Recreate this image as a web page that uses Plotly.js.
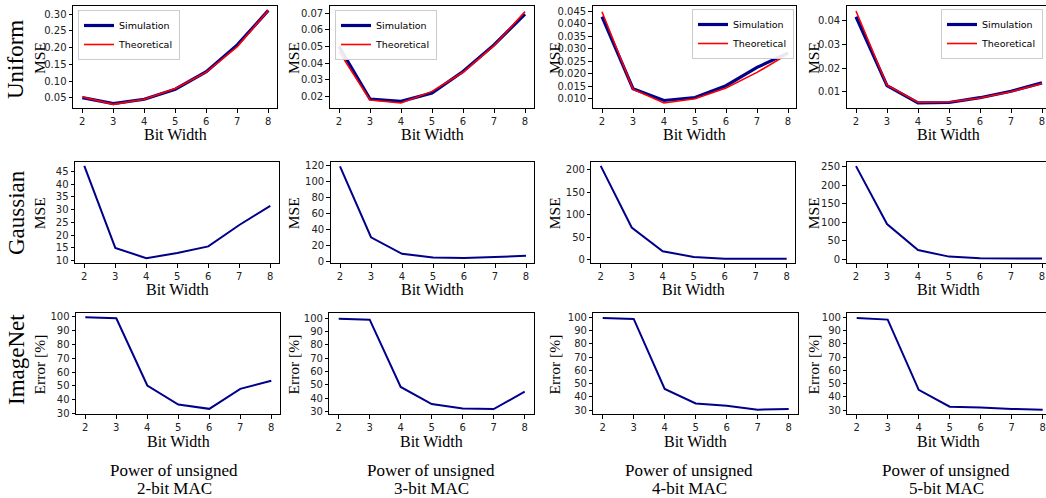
<!DOCTYPE html>
<html>
<head>
<meta charset="utf-8">
<script src="https://cdn.plot.ly/plotly-3.0.1.min.js"></script>
<style>html,body{margin:0;padding:0;background:#fff;}#chart{width:1046px;height:498px;}</style>
</head>
<body>
<div id="chart"></div>
<script>
// ---- data ----
const bits = [2, 3, 4, 5, 6, 7, 8];
const uniSim2 = [0.051, 0.033, 0.046, 0.076, 0.128, 0.208, 0.311];
const uniTh2  = [0.053, 0.031, 0.046, 0.078, 0.127, 0.203, 0.311];
const uniSim3 = [0.050, 0.0184, 0.017, 0.022, 0.035, 0.051, 0.0695];
const uniTh3  = [0.047, 0.0178, 0.016, 0.023, 0.0345, 0.0505, 0.071];
const uniSim4 = [0.0428, 0.0140, 0.0093, 0.0105, 0.0152, 0.0225, 0.0282];
const uniTh4  = [0.0447, 0.0138, 0.0083, 0.0100, 0.0143, 0.0205, 0.0278];
const uniSim5 = [0.0414, 0.0126, 0.0054, 0.0056, 0.0076, 0.0103, 0.0138];
const uniTh5  = [0.0438, 0.0128, 0.0057, 0.0058, 0.0075, 0.0101, 0.0135];
const gau2 = [47.2, 15, 11, 13, 15.6, 24, 31.5];
const gau3 = [118.8, 30.2, 9.5, 5, 4.1, 5.4, 7];
const gau4 = [209, 71.6, 18.7, 6, 2.2, 2, 2];
const gau5 = [251, 95, 25, 7.2, 2.7, 1.8, 1.8];
const img2 = [99.2, 98.5, 50.3, 36.7, 33.6, 47.9, 53.8];
const img3 = [99.5, 98.8, 48.5, 35.7, 32.5, 32, 45];
const img4 = [99.5, 98.8, 45.9, 35, 33.3, 30.3, 30.8];
const img5 = [99.5, 98.3, 45.3, 32.5, 32, 30.8, 30.3];
const rowLabels = ["Uniform", "Gaussian", "ImageNet"];
const rowYTitles = ["MSE", "MSE", "Error [%]"];
const colLabelTop = "Power of unsigned";
const colLabelBottom = ["2-bit MAC", "3-bit MAC", "4-bit MAC", "5-bit MAC"];
const xTitle = "Bit Width";
const simName = "Simulation", thName = "Theoretical";

// ---- layout geometry (pixels) ----
const W = 1046, H = 498;
const NAVY = "#00008b", RED = "#ff0000";
const SERIF = "Liberation Serif, Times New Roman, serif";
const SANS = "DejaVu Sans, sans-serif";
const boxes = [ // [left, right, top, bottom]
  [[73,277.3,6,108],[329.7,534.3,6,108],[592.7,796.3,6,108],[846.7,1046,6,108]],
  [[75,279.3,161.5,263],[330.7,534.3,161.5,263],[591.4,795.3,161.5,263],[846.7,1046,161.5,263]],
  [[76,280,313,414],[329.4,533.6,313,414],[593.4,797.6,313,414],[847.4,1046,313,414]]
];
const yRanges = [
  [[0.020,0.324],[0.013,0.0744],[0.0063,0.047],[0.0033,0.0459]],
  [[9.1,48.9],[-2,125],[-7.5,218.7],[-10,263.5]],
  [[29.9,102.3],[28.3,103.8],[27,103.3],[27,103.3]]
];
const yTicks = [
  [[0.05,".2f"],[0.01,".2f"],[0.005,".3f"],[0.01,".2f"]],
  [[5,"d"],[20,"d"],[50,"d"],[50,"d"]],
  [[10,"d"],[10,"d"],[10,"d"],[10,"d"]]
];
const uniSim = [uniSim2, uniSim3, uniSim4, uniSim5];
const uniTh = [uniTh2, uniTh3, uniTh4, uniTh5];
const gau = [gau2, gau3, gau4, gau5];
const img = [img2, img3, img4, img5];

const layout = {
  width: W, height: H,
  margin: {l:0, r:0, t:0, b:0, pad:0},
  paper_bgcolor: "#fff", plot_bgcolor: "#fff",
  font: {family: SANS, size: 9.5, color: "#000"},
  annotations: [], showlegend: true
};
const data = [];
const legendPos = [
  {x: 78, y: 10, xanchor: "left"},
  {x: 335, y: 10, xanchor: "left"},
  {x: 794, y: 9, xanchor: "right"},
  {x: 1043, y: 9, xanchor: "right"}
];

for (let r = 0; r < 3; r++) {
  for (let c = 0; c < 4; c++) {
    const idx = r * 4 + c + 1;
    const sx = idx === 1 ? "" : String(idx);
    const [L, R, T, B] = boxes[r][c];
    const pxPerUnit = 31;
    const xr = [1.7, 1.7 + (R - L) / pxPerUnit];
    layout["xaxis" + sx] = {
      domain: [L / W, R / W], anchor: "y" + sx, range: xr,
      tickmode: "array", tickvals: bits, ticktext: bits.map(String),
      showline: true, mirror: true, linecolor: "#000", linewidth: 1,
      ticks: "outside", ticklen: 3.5, tickwidth: 1, tickcolor: "#000",
      showgrid: false, zeroline: false, tickfont: {family: SANS, size: 10, color: "#222"}
    };
    layout["yaxis" + sx] = {
      domain: [1 - B / H, 1 - T / H], anchor: "x" + sx, range: yRanges[r][c],
      tick0: 0, dtick: yTicks[r][c][0], tickformat: yTicks[r][c][1],
      showline: true, mirror: true, linecolor: "#000", linewidth: 1,
      ticks: "outside", ticklen: 3.5, tickwidth: 1, tickcolor: "#000",
      showgrid: false, zeroline: false, tickfont: {family: SANS, size: 10, color: "#222"}
    };
    const xa = "x" + sx, ya = "y" + sx;
    if (r === 0) {
      const lg = c === 0 ? "legend" : "legend" + (c + 1);
      data.push({x: bits, y: uniSim[c], xaxis: xa, yaxis: ya, type: "scatter", mode: "lines",
                 name: simName, legend: lg, line: {color: NAVY, width: 3.2}});
      data.push({x: bits, y: uniTh[c], xaxis: xa, yaxis: ya, type: "scatter", mode: "lines",
                 name: thName, legend: lg, line: {color: RED, width: 1.6}});
      const lp = legendPos[c];
      layout[lg] = {
        x: lp.x / W, y: 1 - lp.y / H, xref: "paper", yref: "paper",
        xanchor: lp.xanchor, yanchor: "top",
        bgcolor: "rgba(255,255,255,0.9)", bordercolor: "#cccccc", borderwidth: 1,
        font: {family: SANS, size: 9.5, color: "#000"}, itemwidth: 30,
        tracegroupgap: 0
      };
    } else {
      const ys = r === 1 ? gau[c] : img[c];
      data.push({x: bits, y: ys, xaxis: xa, yaxis: ya, type: "scatter", mode: "lines",
                 showlegend: false, line: {color: NAVY, width: 2}});
    }
    // y-axis title
    const ytx = [39, 293, 554, 813][c];
    layout.annotations.push({
      text: rowYTitles[r], xref: "paper", yref: "paper",
      x: ytx / W, y: 1 - ((T + B) / 2 + 1) / H, xanchor: "center", yanchor: "middle",
      textangle: -90, showarrow: false, font: {family: SERIF, size: 15.5, color: "#000"}
    });
    // x-axis title
    const xty = [134, 289, 441][r];
    layout.annotations.push({
      text: xTitle, xref: "paper", yref: "paper",
      x: ((L + Math.min(R, 1051)) / 2 + (c === 3 ? 2 : 0)) / W, y: 1 - xty / H,
      xanchor: "center", yanchor: "middle", showarrow: false,
      font: {family: SERIF, size: 16, color: "#000"}
    });
  }
}
// row labels
const rowCY = [60, 213, 360];
for (let r = 0; r < 3; r++) {
  layout.annotations.push({
    text: rowLabels[r], xref: "paper", yref: "paper", x: 16 / W, y: 1 - rowCY[r] / H,
    xanchor: "center", yanchor: "middle", textangle: -90, showarrow: false,
    font: {family: SERIF, size: 23, color: "#000"}
  });
}
// column labels
const colCX = [174, 431, 689, 946];
for (let c = 0; c < 4; c++) {
  layout.annotations.push({
    text: colLabelTop, xref: "paper", yref: "paper", x: colCX[c] / W, y: 1 - 470 / H,
    xanchor: "center", yanchor: "middle", showarrow: false,
    font: {family: SERIF, size: 17, color: "#000"}
  });
  layout.annotations.push({
    text: colLabelBottom[c], xref: "paper", yref: "paper", x: colCX[c] / W, y: 1 - 488 / H,
    xanchor: "center", yanchor: "middle", showarrow: false,
    font: {family: SERIF, size: 17, color: "#000"}
  });
}

Plotly.newPlot("chart", data, layout, {displayModeBar: false, staticPlot: true});
</script>
</body>
</html>
